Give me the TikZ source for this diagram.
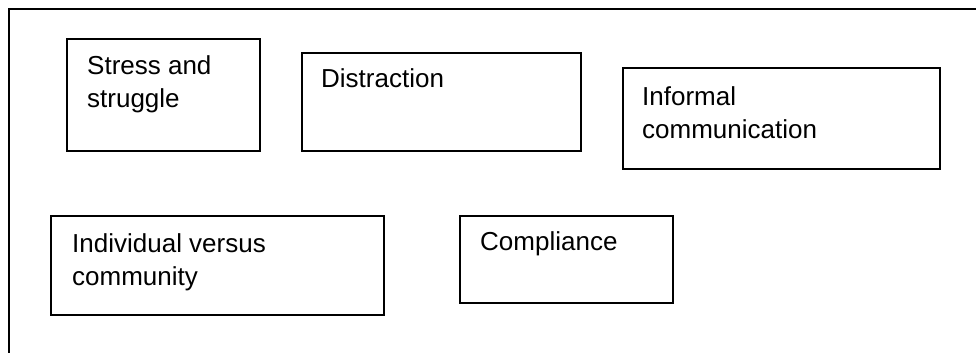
\documentclass[tikz,border=0pt]{standalone}
\usepackage{fontspec}
\setmainfont{Liberation Sans}
\begin{document}
\begin{tikzpicture}[x=1pt,y=-1pt,
  boxstyle/.style={draw=black,line width=1.6pt,rectangle,inner sep=0pt,anchor=north west},
  txtstyle/.style={anchor=base west,inner sep=0pt,align=left,font=\fontsize{26}{33.5}\selectfont}]
\useasboundingbox (0,0) rectangle (976,353);
% frame (open at right and bottom)
\draw[line width=1.8pt] (976,9) -- (9,9) -- (9,353);
% boxes
\node[boxstyle,minimum width=193pt,minimum height=112pt] (s) at (66,38) {};
\node[boxstyle,minimum width=279pt,minimum height=98pt] (d) at (301,52) {};
\node[boxstyle,minimum width=317pt,minimum height=101pt] (i) at (622,67) {};
\node[boxstyle,minimum width=333pt,minimum height=99pt] (v) at (50,215) {};
\node[boxstyle,minimum width=213pt,minimum height=87pt] (c) at (459,215) {};
% texts (base anchor = baseline of last line)
\node[txtstyle] (st) at ([xshift=21pt,yshift=-69.5pt]s.north west) {Stress and\\struggle};
\node[txtstyle] (dt) at ([xshift=20pt,yshift=-35pt]d.north west) {Distraction};
\node[txtstyle] (it) at ([xshift=20pt,yshift=-71.5pt]i.north west) {Informal\\communication};
\node[txtstyle] (vt) at ([xshift=22pt,yshift=-70.5pt]v.north west) {Individual versus\\community};
\node[txtstyle] (ct) at ([xshift=21pt,yshift=-35pt]c.north west) {Compliance};
\end{tikzpicture}
\end{document}
